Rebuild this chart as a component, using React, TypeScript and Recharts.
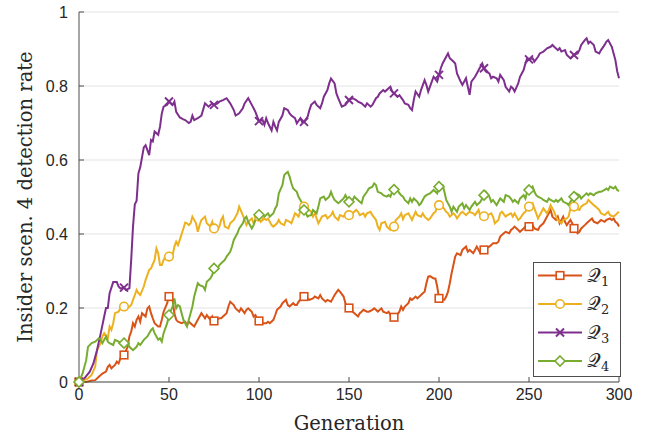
import React from 'react';
import { LineChart, Line, XAxis, YAxis, CartesianGrid } from 'recharts';

const xTicks = [0, 50, 100, 150, 200, 250, 300];
const yTicks = [0, 0.2, 0.4, 0.6, 0.8, 1];
const seriesLabels = ['1', '2', '3', '4'];
const seriesColors = ['#D95319', '#EDB120', '#7E2F8E', '#77AC30'];
const markerStep = 25;

const q1: [number, number][] = [
  [0,0],[4,0],[7,0.004],[9,0.005],[11,0.014],[13,0.023],[15,0.028],[16,0.041],[17,0.046],[18,0.037],[20,0.046],[21,0.055],[22,0.05],[23,0.064],[24,0.07],[25,0.073],[27,0.095],[28,0.123],[29,0.136],[30,0.159],[31,0.15],[32,0.168],[33,0.177],[34,0.163],[35,0.186],[37,0.177],[38,0.199],[39,0.204],[40,0.186],[41,0.172],[42,0.159],[44,0.15],[45,0.15],[46,0.168],[47,0.19],[49,0.213],[50,0.231],[52,0.222],[53,0.186],[54,0.168],[55,0.163],[57,0.159],[59,0.163],[60,0.154],[61,0.163],[63,0.154],[64,0.15],[66,0.168],[67,0.177],[68,0.186],[70,0.172],[71,0.181],[73,0.168],[74,0.177],[75,0.165],[76,0.168],[78,0.172],[79,0.172],[80,0.177],[82,0.186],[83,0.204],[84,0.217],[86,0.208],[87,0.199],[89,0.19],[90,0.199],[92,0.186],[93,0.195],[94,0.199],[96,0.19],[97,0.177],[98,0.181],[99,0.172],[100,0.165],[102,0.159],[104,0.159],[105,0.163],[106,0.159],[108,0.168],[109,0.181],[110,0.195],[112,0.204],[113,0.213],[115,0.222],[116,0.208],[117,0.204],[119,0.213],[120,0.208],[121,0.208],[122,0.217],[123,0.222],[124,0.226],[125,0.231],[127,0.226],[128,0.222],[130,0.226],[131,0.231],[133,0.226],[134,0.235],[135,0.226],[137,0.217],[138,0.222],[140,0.217],[141,0.226],[142,0.235],[144,0.249],[145,0.244],[147,0.231],[148,0.213],[149,0.199],[150,0.2],[151,0.204],[152,0.19],[153,0.186],[155,0.177],[156,0.186],[157,0.19],[158,0.195],[160,0.19],[161,0.19],[163,0.195],[164,0.199],[165,0.195],[166,0.19],[168,0.199],[169,0.19],[171,0.186],[172,0.19],[173,0.181],[175,0.175],[176,0.177],[178,0.19],[179,0.204],[180,0.195],[181,0.204],[183,0.213],[184,0.226],[185,0.222],[187,0.231],[188,0.226],[190,0.235],[191,0.24],[192,0.244],[193,0.267],[194,0.285],[195,0.286],[197,0.28],[198,0.28],[199,0.258],[200,0.226],[202,0.222],[203,0.222],[204,0.231],[205,0.244],[206,0.267],[207,0.294],[208,0.316],[209,0.339],[210,0.348],[212,0.343],[213,0.357],[215,0.366],[216,0.352],[217,0.357],[219,0.348],[220,0.357],[221,0.366],[223,0.348],[224,0.352],[225,0.357],[226,0.361],[228,0.366],[229,0.37],[230,0.375],[232,0.375],[233,0.379],[234,0.393],[236,0.402],[237,0.406],[239,0.402],[240,0.411],[241,0.415],[242,0.42],[244,0.411],[245,0.406],[247,0.415],[248,0.42],[249,0.424],[250,0.42],[252,0.424],[253,0.415],[255,0.411],[256,0.42],[258,0.429],[259,0.438],[260,0.447],[262,0.465],[263,0.447],[265,0.438],[266,0.447],[267,0.429],[268,0.438],[269,0.447],[270,0.433],[271,0.424],[273,0.438],[274,0.429],[275,0.415],[277,0.402],[278,0.406],[279,0.415],[281,0.424],[282,0.429],[284,0.438],[285,0.442],[286,0.433],[288,0.429],[289,0.433],[290,0.438],[292,0.433],[293,0.438],[295,0.442],[296,0.438],[297,0.442],[298,0.433],[299,0.429],[300,0.42]
];

const q2: [number, number][] = [
  [0,0],[3,0.005],[5,0.01],[7,0.019],[9,0.041],[10,0.086],[12,0.105],[13,0.123],[14,0.132],[16,0.118],[17,0.15],[18,0.141],[19,0.159],[20,0.186],[22,0.19],[23,0.199],[25,0.204],[26,0.195],[27,0.199],[29,0.208],[30,0.222],[31,0.235],[32,0.249],[33,0.24],[34,0.235],[36,0.258],[37,0.276],[39,0.303],[40,0.307],[42,0.33],[43,0.361],[44,0.348],[45,0.316],[46,0.316],[47,0.33],[48,0.339],[50,0.339],[52,0.343],[53,0.366],[54,0.379],[55,0.37],[56,0.384],[58,0.415],[59,0.431],[60,0.429],[61,0.424],[62,0.429],[63,0.447],[65,0.429],[66,0.406],[67,0.424],[68,0.438],[70,0.447],[71,0.429],[73,0.42],[74,0.433],[75,0.415],[76,0.406],[78,0.42],[79,0.438],[80,0.447],[81,0.42],[83,0.415],[84,0.429],[86,0.438],[87,0.447],[88,0.456],[89,0.474],[91,0.451],[92,0.438],[93,0.424],[94,0.433],[96,0.442],[97,0.429],[98,0.438],[100,0.447],[101,0.433],[103,0.442],[104,0.438],[105,0.442],[107,0.424],[108,0.42],[110,0.429],[111,0.438],[112,0.429],[114,0.424],[115,0.438],[117,0.433],[118,0.429],[119,0.442],[120,0.456],[121,0.452],[122,0.447],[123,0.462],[124,0.469],[125,0.474],[127,0.469],[129,0.46],[130,0.447],[131,0.456],[133,0.429],[134,0.438],[135,0.447],[137,0.451],[138,0.442],[140,0.451],[141,0.46],[142,0.447],[144,0.438],[145,0.451],[147,0.447],[148,0.456],[149,0.447],[150,0.451],[152,0.456],[154,0.465],[155,0.46],[156,0.451],[158,0.456],[159,0.447],[160,0.456],[162,0.46],[163,0.451],[165,0.438],[166,0.42],[167,0.411],[168,0.429],[170,0.433],[171,0.42],[173,0.411],[174,0.415],[175,0.42],[176,0.438],[178,0.447],[179,0.456],[180,0.44],[181,0.451],[183,0.456],[184,0.447],[185,0.438],[187,0.46],[188,0.451],[190,0.447],[191,0.456],[192,0.447],[194,0.438],[195,0.442],[197,0.456],[198,0.46],[199,0.474],[200,0.478],[202,0.474],[204,0.46],[205,0.456],[206,0.447],[208,0.456],[209,0.451],[210,0.442],[212,0.456],[213,0.46],[215,0.451],[216,0.456],[217,0.46],[219,0.456],[220,0.451],[222,0.465],[223,0.447],[224,0.451],[225,0.448],[226,0.442],[227,0.451],[229,0.456],[230,0.447],[231,0.429],[233,0.438],[234,0.456],[235,0.46],[237,0.447],[238,0.451],[240,0.456],[241,0.447],[242,0.456],[244,0.438],[245,0.442],[247,0.456],[248,0.46],[249,0.469],[250,0.474],[252,0.483],[253,0.469],[254,0.456],[255,0.442],[257,0.46],[258,0.469],[260,0.456],[261,0.465],[262,0.478],[264,0.46],[265,0.447],[266,0.438],[268,0.429],[269,0.438],[271,0.442],[272,0.447],[273,0.469],[275,0.474],[276,0.469],[278,0.465],[279,0.474],[280,0.478],[282,0.483],[283,0.492],[284,0.487],[286,0.478],[287,0.474],[289,0.465],[290,0.456],[292,0.451],[293,0.456],[294,0.46],[295,0.451],[297,0.447],[298,0.451],[299,0.456],[300,0.46]
];

const q3: [number, number][] = [
  [0,0],[3,0.01],[6,0.028],[8,0.05],[10,0.086],[12,0.13],[14,0.177],[15,0.2],[16,0.2],[17,0.24],[19,0.27],[21,0.27],[22,0.258],[23,0.253],[25,0.255],[26,0.249],[28,0.253],[29,0.33],[30,0.42],[31,0.48],[32,0.49],[33,0.564],[34,0.58],[36,0.634],[37,0.64],[39,0.613],[40,0.654],[41,0.65],[42,0.677],[44,0.668],[45,0.69],[46,0.726],[47,0.744],[49,0.749],[50,0.758],[52,0.749],[53,0.758],[54,0.73],[56,0.715],[58,0.71],[59,0.708],[61,0.7],[62,0.703],[63,0.72],[64,0.708],[66,0.713],[68,0.72],[70,0.753],[72,0.744],[74,0.753],[75,0.749],[77,0.753],[78,0.758],[80,0.762],[82,0.767],[84,0.753],[86,0.735],[87,0.72],[89,0.726],[91,0.74],[92,0.753],[94,0.767],[96,0.749],[97,0.74],[98,0.73],[99,0.717],[100,0.705],[102,0.708],[103,0.695],[104,0.713],[105,0.7],[107,0.68],[108,0.703],[109,0.69],[110,0.68],[111,0.703],[113,0.72],[114,0.74],[116,0.735],[117,0.726],[118,0.72],[120,0.713],[121,0.699],[123,0.713],[124,0.703],[125,0.703],[127,0.717],[128,0.735],[129,0.749],[131,0.758],[132,0.749],[134,0.74],[135,0.753],[136,0.771],[138,0.789],[139,0.807],[140,0.82],[142,0.807],[143,0.78],[144,0.767],[146,0.744],[148,0.749],[150,0.762],[152,0.767],[154,0.762],[155,0.758],[157,0.753],[159,0.744],[160,0.753],[162,0.744],[163,0.749],[165,0.767],[166,0.771],[167,0.78],[169,0.789],[170,0.785],[172,0.794],[173,0.798],[174,0.785],[175,0.78],[177,0.771],[178,0.775],[180,0.762],[181,0.753],[183,0.749],[184,0.74],[185,0.735],[186,0.762],[187,0.785],[189,0.771],[190,0.789],[192,0.816],[193,0.803],[194,0.785],[196,0.812],[197,0.825],[199,0.812],[200,0.83],[201,0.848],[202,0.861],[204,0.879],[205,0.888],[206,0.875],[208,0.866],[209,0.861],[210,0.834],[212,0.812],[213,0.803],[215,0.821],[216,0.798],[217,0.776],[218,0.812],[220,0.825],[221,0.834],[223,0.852],[224,0.861],[225,0.848],[226,0.839],[228,0.834],[229,0.821],[230,0.825],[232,0.821],[233,0.812],[234,0.83],[236,0.816],[237,0.798],[239,0.785],[240,0.798],[241,0.794],[242,0.785],[244,0.807],[245,0.825],[247,0.843],[248,0.861],[249,0.875],[250,0.872],[252,0.875],[253,0.866],[255,0.879],[256,0.888],[258,0.893],[259,0.897],[260,0.902],[262,0.906],[263,0.911],[264,0.906],[266,0.897],[267,0.902],[268,0.893],[270,0.897],[271,0.884],[273,0.875],[274,0.879],[275,0.884],[277,0.888],[278,0.897],[279,0.911],[281,0.924],[282,0.929],[283,0.915],[284,0.92],[286,0.911],[287,0.893],[289,0.888],[290,0.897],[292,0.911],[293,0.92],[294,0.924],[295,0.915],[296,0.906],[297,0.888],[298,0.87],[299,0.84],[300,0.821]
];

const q4: [number, number][] = [
  [0,0],[2,0.023],[4,0.059],[5,0.095],[7,0.105],[9,0.109],[11,0.118],[12,0.114],[13,0.105],[15,0.123],[16,0.109],[17,0.105],[19,0.1],[20,0.114],[22,0.109],[24,0.1],[25,0.105],[27,0.109],[28,0.095],[30,0.086],[32,0.095],[33,0.105],[34,0.1],[36,0.114],[38,0.123],[40,0.14],[41,0.145],[42,0.132],[44,0.114],[45,0.118],[46,0.109],[47,0.132],[49,0.159],[50,0.181],[52,0.204],[53,0.226],[54,0.199],[55,0.208],[56,0.205],[57,0.186],[58,0.168],[59,0.159],[60,0.15],[61,0.168],[62,0.186],[63,0.204],[64,0.231],[65,0.249],[66,0.267],[67,0.262],[69,0.258],[70,0.249],[71,0.271],[73,0.28],[74,0.289],[75,0.307],[77,0.307],[78,0.316],[79,0.321],[81,0.33],[82,0.339],[84,0.352],[85,0.366],[86,0.384],[87,0.393],[88,0.402],[89,0.415],[91,0.429],[92,0.442],[93,0.447],[94,0.433],[96,0.415],[97,0.424],[98,0.438],[99,0.447],[100,0.452],[102,0.451],[103,0.447],[105,0.456],[106,0.447],[108,0.456],[109,0.469],[110,0.478],[111,0.51],[113,0.532],[114,0.559],[115,0.564],[116,0.568],[117,0.555],[118,0.537],[119,0.523],[121,0.514],[122,0.5],[123,0.492],[124,0.483],[125,0.465],[126,0.456],[127,0.447],[128,0.45],[129,0.451],[130,0.465],[132,0.456],[133,0.474],[134,0.496],[136,0.501],[137,0.492],[139,0.501],[140,0.514],[141,0.501],[142,0.492],[144,0.483],[145,0.487],[147,0.496],[148,0.505],[149,0.496],[150,0.487],[152,0.492],[153,0.501],[154,0.496],[156,0.487],[157,0.483],[158,0.501],[160,0.514],[161,0.523],[163,0.528],[164,0.537],[165,0.532],[166,0.514],[168,0.51],[169,0.505],[171,0.501],[172,0.505],[173,0.501],[174,0.514],[175,0.52],[176,0.523],[177,0.518],[178,0.51],[179,0.505],[180,0.501],[181,0.492],[183,0.483],[184,0.496],[185,0.487],[186,0.496],[188,0.487],[189,0.478],[190,0.483],[192,0.501],[193,0.505],[195,0.51],[196,0.514],[197,0.519],[199,0.51],[200,0.528],[202,0.532],[203,0.514],[204,0.492],[206,0.474],[207,0.46],[208,0.474],[210,0.46],[211,0.474],[213,0.483],[214,0.469],[215,0.478],[217,0.465],[218,0.474],[220,0.487],[221,0.478],[223,0.487],[224,0.496],[225,0.505],[226,0.514],[228,0.501],[229,0.487],[230,0.492],[232,0.478],[233,0.487],[234,0.496],[236,0.487],[237,0.505],[239,0.501],[240,0.495],[241,0.487],[242,0.492],[244,0.483],[245,0.496],[247,0.505],[248,0.496],[249,0.514],[250,0.519],[252,0.528],[253,0.514],[254,0.505],[255,0.501],[257,0.496],[258,0.492],[260,0.487],[261,0.496],[262,0.492],[264,0.487],[265,0.492],[266,0.487],[268,0.496],[269,0.487],[271,0.483],[272,0.478],[273,0.487],[275,0.501],[276,0.51],[278,0.505],[279,0.496],[280,0.501],[282,0.51],[283,0.505],[284,0.51],[286,0.505],[287,0.51],[289,0.514],[290,0.514],[292,0.519],[293,0.523],[294,0.519],[295,0.528],[297,0.523],[298,0.528],[299,0.519],[300,0.516]
];

const seriesData = [q1, q2, q3, q4].map((s) => s.map(([g, v]) => ({ g, v })));

type Kind = 0 | 1 | 2 | 3;

function Marker({ kind, cx, cy, color }: { kind: Kind; cx: number; cy: number; color: string }) {
  const sw = 1.6;
  if (kind === 0) {
    return <rect x={cx - 3.8} y={cy - 3.8} width={7.6} height={7.6} fill="#fff" stroke={color} strokeWidth={sw} />;
  }
  if (kind === 1) {
    return <circle cx={cx} cy={cy} r={4.3} fill="#fff" stroke={color} strokeWidth={sw} />;
  }
  if (kind === 2) {
    const d = 4;
    return (
      <g stroke={color} strokeWidth={2}>
        <line x1={cx - d} y1={cy - d} x2={cx + d} y2={cy + d} />
        <line x1={cx - d} y1={cy + d} x2={cx + d} y2={cy - d} />
      </g>
    );
  }
  const d = 5;
  return (
    <polygon
      points={`${cx},${cy - d} ${cx + d},${cy} ${cx},${cy + d} ${cx - d},${cy}`}
      fill="#fff"
      stroke={color}
      strokeWidth={sw}
    />
  );
}

const makeDot = (kind: Kind, color: string) => (props: any) => {
  const { cx, cy, payload, index } = props;
  if (payload && payload.g % markerStep === 0 && payload.g < 300) {
    return (
      <g key={`m-${kind}-${index}`}>
        <Marker kind={kind} cx={cx} cy={cy} color={color} />
      </g>
    );
  }
  return <g key={`m-${kind}-${index}`} />;
};

function LegendBox() {
  const rowH = 28.5;
  return (
    <svg width={89} height={116} style={{ display: 'block' }}>
      <rect x={0.5} y={0.5} width={87} height={114} fill="#fff" stroke="#4d4d4d" strokeWidth={1} />
      {seriesLabels.map((lab, i) => {
        const y = 13.5 + i * rowH;
        const color = seriesColors[i];
        return (
          <g key={lab}>
            <line x1={5} y1={y} x2={49} y2={y} stroke={color} strokeWidth={2} />
            <Marker kind={i as Kind} cx={27} cy={y} color={color} />
            <text x={54} y={y + 6} fontFamily="'DejaVu Serif', 'Liberation Serif', serif" fontSize={19} fill="#262626">
              𝒬<tspan fontSize={13} dy={4}>{lab}</tspan>
            </text>
          </g>
        );
      })}
    </svg>
  );
}

export default function App() {
  return (
    <div style={{ position: 'absolute', left: 0, top: 0, width: 651, height: 437, background: '#fff' }}>
      <LineChart width={651} height={437} margin={{ top: 12, right: 32, left: 29, bottom: 15 }}>
        <CartesianGrid horizontal vertical={false} stroke="#e3e3e3" strokeWidth={1} />
        <XAxis
          dataKey="g"
          type="number"
          domain={[0, 300]}
          ticks={xTicks}
          allowDuplicatedCategory={false}
          height={40}
          stroke="#4d4d4d"
          tickSize={-5}
          tickMargin={12}
          tick={{ fill: '#262626', fontSize: 16, fontFamily: "'Liberation Sans', Arial, sans-serif" }}
          label={{
            content: () => (
              <text x={349} y={430} textAnchor="middle" fontFamily="'DejaVu Serif', serif" fontSize={19.5} fill="#262626">
                Generation
              </text>
            ),
          }}
        />
        <YAxis
          type="number"
          domain={[0, 1]}
          ticks={yTicks}
          width={50}
          stroke="#4d4d4d"
          tickSize={-5}
          tickMargin={16}
          tickFormatter={(v: number) => (v === 0 ? '0' : v === 1 ? '1' : String(v))}
          tick={{ fill: '#262626', fontSize: 16, fontFamily: "'Liberation Sans', Arial, sans-serif" }}
          label={{
            content: () => (
              <text
                x={25}
                y={197}
                transform="rotate(-90 25 197)"
                textAnchor="middle"
                dominantBaseline="central"
                fontFamily="'DejaVu Serif', serif"
                fontSize={19.5}
                fill="#262626"
              >
                Insider scen. 4 detection rate
              </text>
            ),
          }}
        />
        {seriesData.map((d, i) => (
          <Line
            key={i}
            data={d}
            dataKey="v"
            type="linear"
            stroke={seriesColors[i]}
            strokeWidth={2}
            dot={makeDot(i as Kind, seriesColors[i])}
            activeDot={false}
            isAnimationActive={false}
          />
        ))}
      </LineChart>
      <div style={{ position: 'absolute', left: 533, top: 262 }}>
        <LegendBox />
      </div>
    </div>
  );
}
